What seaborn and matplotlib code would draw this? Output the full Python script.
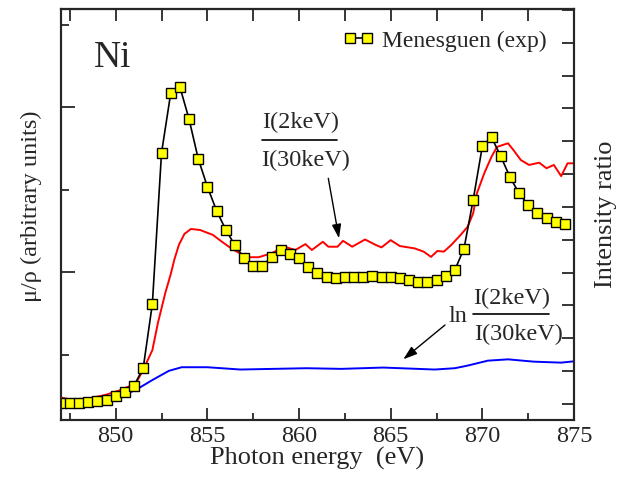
import matplotlib
matplotlib.use("Agg")
import matplotlib.pyplot as plt
from matplotlib.lines import Line2D
from matplotlib.ticker import MultipleLocator
import seaborn as sns
import pandas as pd

# experimental spectrum (Menesguen), left axis, arbitrary units
exp_energy = [847.0, 847.5, 848.0, 848.5, 849.0, 849.5, 850.0, 850.5, 851.0, 851.5,
              852.0, 852.5, 853.0, 853.5, 854.0, 854.5, 855.0, 855.5, 856.0, 856.5,
              857.0, 857.5, 858.0, 858.5, 859.0, 859.5, 860.0, 860.5, 861.0, 861.5,
              862.0, 862.5, 863.0, 863.5, 864.0, 864.5, 865.0, 865.5, 866.0, 866.5,
              867.0, 867.5, 868.0, 868.5, 869.0, 869.5, 870.0, 870.5, 871.0, 871.5,
              872.0, 872.5, 873.0, 873.5, 874.0, 874.5]
exp_mu = [0.42, 0.42, 0.42, 0.43, 0.44, 0.46, 0.50, 0.55, 0.63, 0.84,
          1.62, 3.45, 4.17, 4.25, 3.86, 3.38, 3.04, 2.75, 2.52, 2.33,
          2.18, 2.08, 2.08, 2.19, 2.27, 2.23, 2.17, 2.07, 1.99, 1.94,
          1.93, 1.94, 1.95, 1.95, 1.96, 1.95, 1.94, 1.93, 1.91, 1.89,
          1.89, 1.91, 1.96, 2.03, 2.29, 2.88, 3.53, 3.64, 3.41, 3.16,
          2.96, 2.82, 2.72, 2.66, 2.61, 2.59]

# I(2keV)/I(30keV) ratio, right axis
ratio_energy = [847.0, 847.5, 848.5, 849.4, 850.3, 851.1, 851.5, 852.0, 852.3, 852.7,
                853.0, 853.2, 853.45, 853.75, 854.1, 854.6, 855.3, 855.8, 856.3, 856.8,
                857.25, 857.8, 858.5, 859.2, 859.8, 860.35, 860.7, 861.3, 861.6, 862.1,
                862.4, 862.9, 863.6, 864.2, 864.5, 865.0, 865.5, 866.3, 866.8, 867.2,
                867.55, 867.9, 868.3, 868.8, 869.2, 869.5, 869.7, 870.1, 870.5, 870.8,
                871.4, 871.7, 872.1, 872.55, 873.1, 873.5, 873.9, 874.3, 874.65, 875.0]
ratio_val = [0.20, 0.14, 0.17, 0.27, 0.43, 0.63, 1.04, 1.64, 2.46, 3.37,
             3.95, 4.40, 4.85, 5.18, 5.33, 5.30, 5.15, 4.94, 4.74, 4.58,
             4.47, 4.47, 4.59, 4.79, 4.69, 4.87, 4.69, 4.94, 4.79, 4.79,
             4.97, 4.79, 5.01, 4.84, 4.77, 4.99, 4.81, 4.74, 4.64, 4.48,
             4.66, 4.64, 4.84, 5.14, 5.40, 5.81, 6.41, 7.02, 7.53, 7.83,
             7.94, 7.73, 7.43, 7.28, 7.35, 7.18, 7.28, 6.94, 7.33, 7.33]

# ln(I(2keV)/I(30keV)), right axis
ln_energy = [847.0, 848.0, 849.0, 850.0, 851.1, 852.0, 852.9, 853.6, 855.0, 856.8,
             858.6, 860.4, 862.3, 864.6, 867.4, 868.5, 869.2, 870.3, 871.4, 872.8,
             874.3, 875.0]
ln_val = [0.12, 0.06, 0.08, 0.17, 0.43, 0.73, 1.01, 1.12, 1.12, 1.05,
          1.07, 1.09, 1.07, 1.11, 1.05, 1.09, 1.17, 1.32, 1.36, 1.29,
          1.26, 1.30]

W, H = 630, 478

sns.set_style("ticks")
plt.rcParams["font.family"] = ["Liberation Serif", "DejaVu Serif"]

fig = plt.figure(figsize=(6.3, 4.78), dpi=100)
ax = fig.add_axes([60.7 / W, 1 - 420 / H, (574 - 60.7) / W, (420 - 9.3) / H])
ax2 = ax.twinx()

exp_df = pd.DataFrame({"E": exp_energy, "mu": exp_mu})
ratio_df = pd.DataFrame({"E": ratio_energy, "r": ratio_val})
ln_df = pd.DataFrame({"E": ln_energy, "r": ln_val})

sns.lineplot(data=ratio_df, x="E", y="r", ax=ax2, color="red", lw=1.4)
sns.lineplot(data=ln_df, x="E", y="r", ax=ax2, color="blue", lw=1.4)
sns.lineplot(data=exp_df, x="E", y="mu", ax=ax, color="black", lw=1.2,
             marker="s", markersize=6.5, markerfacecolor="#ffff00",
             markeredgecolor="black", markeredgewidth=1.0,
             label="Menesguen (exp)")
ax.set_zorder(ax2.get_zorder() + 1)
ax.patch.set_visible(False)

ax.set_xlim(847, 875)
ax.set_ylim(0.212, 5.19)
ax2.set_ylim(-0.487, 12.02)

ax.xaxis.set_major_locator(MultipleLocator(5))
ax.xaxis.set_minor_locator(MultipleLocator(2.5))
ax.yaxis.set_major_locator(MultipleLocator(2))
ax.yaxis.set_minor_locator(MultipleLocator(1))
ax2.yaxis.set_major_locator(MultipleLocator(1))

ax.tick_params(axis="x", which="major", direction="in", length=8.5, width=1.3,
               labelsize=17.5, pad=4, top=False)
ax.tick_params(axis="x", which="minor", direction="in", length=5, width=1.3, top=False)
ax.tick_params(axis="y", which="major", direction="in", length=10, width=1.3,
               labelleft=False, right=False)
ax.tick_params(axis="y", which="minor", direction="in", length=5.5, width=1.3, right=False)
ax2.tick_params(axis="y", which="major", direction="in", length=8.5, width=1.3,
                labelright=False)

top = ax.secondary_xaxis("top")
top.xaxis.set_major_locator(MultipleLocator(2.5))
top.tick_params(direction="in", length=8.5, width=1.3, labeltop=False)

for a in (ax, ax2):
    for s in a.spines.values():
        s.set_linewidth(1.5)
        s.set_visible(True)
top.spines["top"].set_linewidth(1.5)

ax.set_xlabel("Photon energy  (eV)", fontsize=19, labelpad=0)
ax.set_ylabel("μ/ρ (arbitrary units)", fontsize=17.5)
ax.yaxis.set_label_coords(-0.037, 0.521)
ax2.set_ylabel("Intensity ratio", fontsize=19)
ax2.yaxis.set_label_coords(1.041, 0.5)

leg = ax.legend(loc="upper right", bbox_to_anchor=(547 / W, 1 - 30 / H),
                bbox_transform=fig.transFigure, frameon=False, fontsize=17,
                handlelength=1.3, handletextpad=0.35, numpoints=2,
                borderaxespad=0, borderpad=0)

fig.text(94 / W, 1 - 58 / H, "Ni", fontsize=27, ha="left", va="center")

# fraction annotation for the ratio
fs = 17.5
fig.text(262 / W, 1 - 122.5 / H, "I(2keV)", fontsize=fs, ha="left", va="center")
fig.text(261 / W, 1 - 160 / H, "I(30keV)", fontsize=fs, ha="left", va="center")
fig.add_artist(Line2D([261.7 / W, 337.3 / W], [1 - 140 / H, 1 - 140 / H],
                      transform=fig.transFigure, color="black", lw=1.2))
ax.annotate("", xy=(339, H - 238.3), xytext=(328.3, H - 178.3),
            xycoords="figure pixels", textcoords="figure pixels",
            arrowprops=dict(arrowstyle="-|>,head_length=0.6,head_width=0.2",
                            color="black", lw=1.0,
                            mutation_scale=14, shrinkA=0, shrinkB=0))

# fraction annotation for the log ratio
fig.text(449 / W, 1 - 316 / H, "ln", fontsize=fs, ha="left", va="center")
fig.text(473.5 / W, 1 - 298.3 / H, "I(2keV)", fontsize=fs, ha="left", va="center")
fig.text(474 / W, 1 - 334 / H, "I(30keV)", fontsize=fs, ha="left", va="center")
fig.add_artist(Line2D([473 / W, 549 / W], [1 - 314 / H, 1 - 314 / H],
                      transform=fig.transFigure, color="black", lw=1.2))
ax.annotate("", xy=(403.3, H - 359.3), xytext=(445, H - 325),
            xycoords="figure pixels", textcoords="figure pixels",
            arrowprops=dict(arrowstyle="-|>,head_length=0.6,head_width=0.2",
                            color="black", lw=1.0,
                            mutation_scale=14, shrinkA=0, shrinkB=0))

fig.savefig("out.png", dpi=100)
